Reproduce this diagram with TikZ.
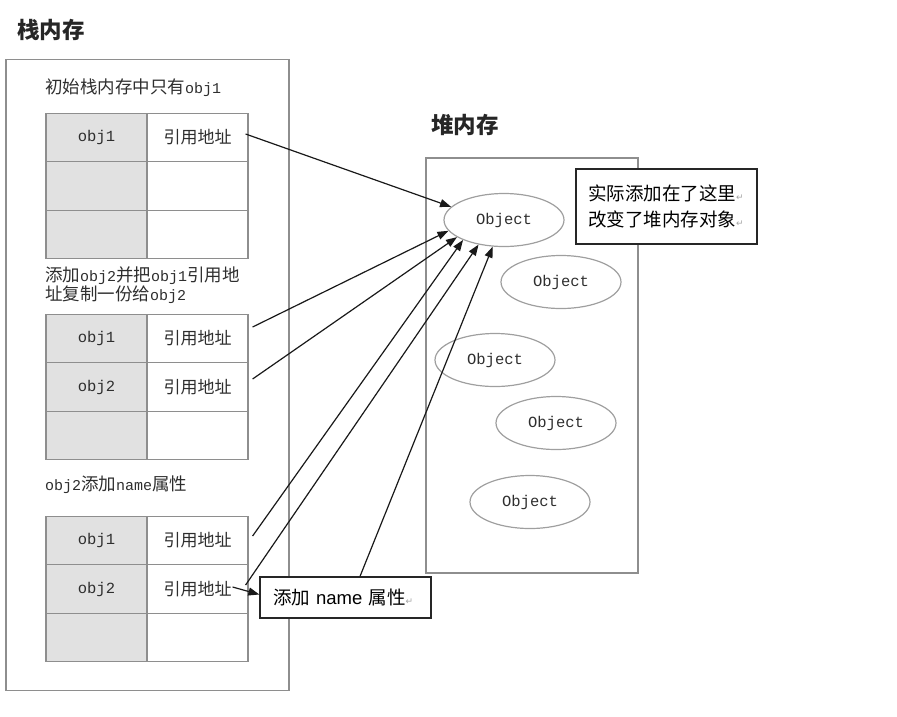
\documentclass[tikz,border=0pt]{standalone}
\usepackage{fontspec}
\setmainfont{Liberation Sans}
\newfontfamily\cjkf{Noto Sans CJK SC}
\newfontfamily\monof{Liberation Mono}
\newfontfamily\symf{DejaVu Sans}
\usetikzlibrary{arrows.meta,shapes.geometric}
\definecolor{framegray}{HTML}{8E8E8E}
\definecolor{cellgray}{HTML}{E1E1E1}
\definecolor{inkgray}{HTML}{2E2E2E}
\newcommand\M[1]{{\monof\fontsize{15}{15}\selectfont #1}}
\newcommand\pmark{{\symf\fontsize{9}{9}\selectfont\color{gray!70}↵}}
\begin{document}
\begin{tikzpicture}[x={(1pt,0)},y={(0,-1pt)},
  frame/.style={draw=framegray,line width=1.3pt},
  lcell/.style={draw=framegray,line width=1.2pt,fill=cellgray,minimum width=101,minimum height=48.5,inner sep=0,text=inkgray,font=\monof\fontsize{15.5}{15.5}\selectfont},
  rcell/.style={draw=framegray,line width=1.2pt,fill=white,minimum width=101,minimum height=48.5,inner sep=0,text=inkgray,font=\cjkf\fontsize{17}{17}\selectfont},
  label/.style={anchor=west,inner sep=0,text=inkgray,align=left,font=\cjkf\fontsize{17.5}{17}\selectfont},
  title/.style={anchor=west,inner sep=0,text=black!85,font=\cjkf\bfseries\fontsize{22.5}{22.5}\selectfont},
  obj/.style={ellipse,draw=gray!75,line width=1.2pt,minimum width=120,minimum height=53,inner sep=0,text=inkgray,font=\monof\fontsize{15.5}{15.5}\selectfont},
  callout/.style={draw=black!85,line width=1.3pt,fill=white,inner sep=0,font=\cjkf\fontsize{18.5}{26}\selectfont,align=left},
  link/.style={draw=black!90,line width=1.2pt,-{Triangle[length=11pt,width=8pt]}}]
\useasboundingbox (0,0) rectangle (897,716);

% stack
\node[title] (stackT) at (17,30) {栈内存};
\node[frame,minimum width=283,minimum height=631,inner sep=0] (stack) at (147.5,375) {};

\node[label] (lab1) at (45,88) {初始栈内存中只有\M{obj1}};
\node[lcell] (t1l1) at (96.5,137.5) {obj1};
\node[rcell] (t1r1) at (197.5,137.5) {引用地址};
\node[lcell] (t1l2) at (96.5,186) {};
\node[rcell] (t1r2) at (197.5,186) {};
\node[lcell] (t1l3) at (96.5,234.5) {};
\node[rcell] (t1r3) at (197.5,234.5) {};

\node[label] (lab2) at (45,285) {添加\M{obj2}并把\M{obj1}引用地\\址复制一份给\M{obj2}};
\node[lcell] (t2l1) at (96.5,338.5) {obj1};
\node[rcell] (t2r1) at (197.5,338.5) {引用地址};
\node[lcell] (t2l2) at (96.5,387) {obj2};
\node[rcell] (t2r2) at (197.5,387) {引用地址};
\node[lcell] (t2l3) at (96.5,435.5) {};
\node[rcell] (t2r3) at (197.5,435.5) {};

\node[label] (lab3) at (45,485) {\M{obj2}添加\M{name}属性};
\node[lcell] (t3l1) at (96.5,540.5) {obj1};
\node[rcell] (t3r1) at (197.5,540.5) {引用地址};
\node[lcell] (t3l2) at (96.5,589) {obj2};
\node[rcell] (t3r2) at (197.5,589) {引用地址};
\node[lcell] (t3l3) at (96.5,637.5) {};
\node[rcell] (t3r3) at (197.5,637.5) {};

% heap
\node[title] (heapT) at (431,125) {堆内存};
\node[frame,minimum width=212,minimum height=415,inner sep=0] (heap) at (532,365.5) {};
\node[obj] (o1) at (504,220) {Object};
\node[obj] (o2) at (561,282) {Object};
\node[obj] (o3) at (495,360) {Object};
\node[obj] (o4) at (556,423) {Object};
\node[obj] (o5) at (530,502) {Object};

% callouts
\node[callout,minimum width=181,minimum height=75,text width=157] (c1) at (666.5,206.5) {实际添加在了这里\pmark\\改变了堆内存对象\pmark};
\node[callout,minimum width=171,minimum height=41,text width=145] (c2) at (345.5,597.5) {添加 {\fontspec{Liberation Sans}name} 属性\pmark};

% connectors
\draw[link] ([shift={(-3,-3.5)}]t1r1.east) -- (o1.166);
\draw[link] ([shift={(4,-11.5)}]t2r1.east) -- (o1.191);
\draw[link] ([shift={(4,-8)}]t2r2.east) -- (o1.200);
\draw[link] ([shift={(4,-4.5)}]t3r1.east) -- (o1.206);
\draw[link] ([shift={(-3,-4)}]t3r2.east) -- (o1.224);
\draw[link] ([xshift=14.5]c2.north) -- (o1.247);
\draw[link] ([shift={(-16,-2)}]t3r2.east) -- ([yshift=3]c2.west);
\end{tikzpicture}
\end{document}
